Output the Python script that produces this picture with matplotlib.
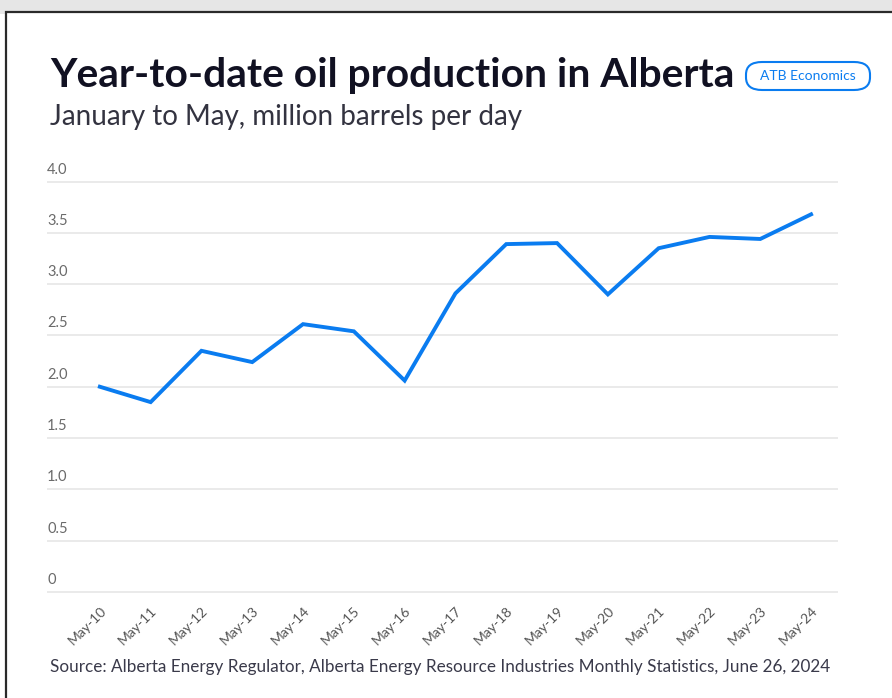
import matplotlib.pyplot as plt
from matplotlib.patches import Rectangle, FancyBboxPatch
import matplotlib.transforms as mtransforms

# data
years = ["May-10", "May-11", "May-12", "May-13", "May-14", "May-15", "May-16", "May-17",
         "May-18", "May-19", "May-20", "May-21", "May-22", "May-23", "May-24"]
production = [2.00, 1.85, 2.35, 2.24, 2.61, 2.54, 2.06, 2.91,
              3.39, 3.40, 2.90, 3.35, 3.46, 3.44, 3.68]
yticks = [0, 0.5, 1.0, 1.5, 2.0, 2.5, 3.0, 3.5, 4.0]
ytick_labels = ["0", "0.5", "1.0", "1.5", "2.0", "2.5", "3.0", "3.5", "4.0"]

W, H = 892, 698
plt.rcParams['font.family'] = ['Lato', 'DejaVu Sans']
fig = plt.figure(figsize=(W / 100, H / 100), dpi=100)
fig.patch.set_facecolor('white')

# outer frame of the screenshot
fig.patches.append(Rectangle((0, 1 - 14 / H), 1, 14 / H, transform=fig.transFigure,
                             facecolor='#e6e6e6', edgecolor='none', zorder=0))
fig.patches.append(Rectangle((6 / W, -0.05), 1.2, 1 - 12 / H + 0.05, transform=fig.transFigure,
                             facecolor='white', edgecolor='#2a2a2a', lw=1.6, zorder=1))

# axes placement
ax = fig.add_axes([47 / W, 0.1446, (838 - 47) / W, 0.6027])
ax.set_zorder(5)
ax.set_facecolor('none')
x = list(range(len(years)))
ax.plot(x, production, color='#0a7cf0', lw=2.8, solid_joinstyle='miter', zorder=3)

ax.set_xlim(-1.04, 14.53)
ax.set_ylim(-0.05, 4.05)
for v in yticks:
    ax.axhline(v, color='#e8e8e8', lw=1.3, zorder=1)

for s in ax.spines.values():
    s.set_visible(False)
ax.set_yticks([])
ax.tick_params(axis='x', length=0, pad=5)
ax.set_xticks(x)
ax.set_xticklabels(years, rotation=45, ha='right', rotation_mode='anchor',
                   fontsize=10, color='#555555')

# y labels sit on top of the gridlines
off = mtransforms.offset_copy(ax.get_yaxis_transform(), fig=fig, x=0, y=5, units='dots')
for v, lab in zip(yticks, ytick_labels):
    ax.text(0, v, lab, transform=off, ha='left', va='bottom', fontsize=10.5, color='#6a6a6a')

# titles
fig.text(50 / W, 1 - 75 / H, "Year-to-date oil production in Alberta", fontsize=29.3,
         fontweight='bold', color='#111122', va='center', ha='left', zorder=5)
fig.text(50 / W, 1 - 117 / H, "January to May, million barrels per day", fontsize=20,
         color='#333340', va='center', ha='left', zorder=5)

# badge
badge = FancyBboxPatch((746 / W, 1 - 90 / H), 124 / W, 28 / H, transform=fig.transFigure,
                       boxstyle='round,pad=0,rounding_size=0.018', facecolor='white',
                       edgecolor='#0a7cf0', lw=1.5, zorder=4)
fig.patches.append(badge)
fig.text(808 / W, 1 - 76 / H, "ATB Economics", fontsize=10, color='#0a7cf0',
         ha='center', va='center', zorder=5)

fig.text(50 / W, 1 - 667 / H,
         "Source: Alberta Energy Regulator, Alberta Energy Resource Industries Monthly Statistics, June 26, 2024",
         fontsize=12.3, color='#3a3a4a', va='center', ha='left', zorder=5)

fig.savefig("out.png", dpi=100)
